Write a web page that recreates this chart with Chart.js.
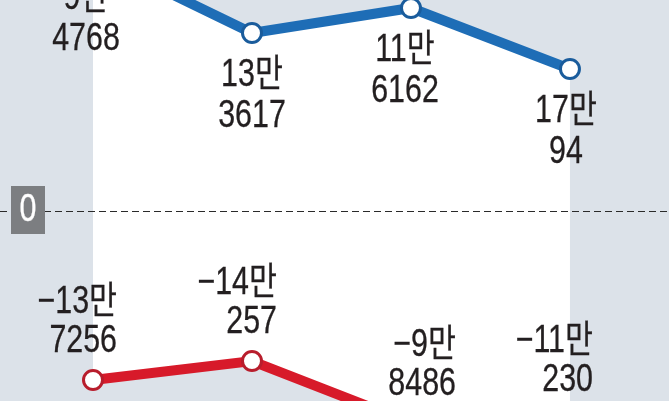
<!DOCTYPE html>
<html>
<head>
<meta charset="utf-8">
<script src="https://cdn.jsdelivr.net/npm/chart.js@4"></script>
<style>
html, body { margin:0; padding:0; background:#dce2e9; overflow:hidden; }
#wrap { width:669px; height:401px; }
</style>
</head>
<body>
<div id="wrap"><canvas id="myChart" width="669" height="401"></canvas></div>
<script>
// four periods, no visible category labels in the crop
const categories = ['1', '2', '3', '4'];
const blueValues = [127.5, 89, 101.5, 71];
const redValues = [-84.5, -75, -106, -104];
// printed value labels
const blueLabels = [['9만', '4768'], ['13만', '3617'], ['11만', '6162'], ['17만', '94']];
const redLabels = [['−13만', '7256'], ['−14만', '257'], ['−9만', '8486'], ['−11만', '230']];

const FONT = "38px 'Liberation Sans', 'Noto Sans CJK KR', sans-serif";
const TEXT = '#231f20';

function narrowText(ctx, str, x, y, align, color) {
	ctx.save();
	ctx.translate(x, y);
	ctx.scale(0.8, 1);
	ctx.font = FONT;
	ctx.fillStyle = color;
	ctx.strokeStyle = color;
	ctx.lineWidth = 0.3;
	ctx.textAlign = align;
	ctx.textBaseline = 'middle';
	ctx.fillText(str, 0, 0);
	ctx.strokeText(str, 0, 0);
	ctx.restore();
}

// zero line + grey "0" tag
const zeroLine = {
	id: 'zeroLine',
	beforeDatasetsDraw(chart) {
		const ctx = chart.ctx;
		const y = chart.scales.y.getPixelForValue(0);
		ctx.save();
		ctx.strokeStyle = '#2a2a2a';
		ctx.lineWidth = 1;
		ctx.setLineDash([7, 4]);
		ctx.beginPath();
		ctx.moveTo(0, y + 0.5);
		ctx.lineTo(chart.width, y + 0.5);
		ctx.stroke();
		ctx.restore();

		ctx.fillStyle = '#7c7e81';
		ctx.fillRect(11, y - 25, 34, 48);
		narrowText(ctx, '0', 28, y, 'center', '#ffffff');
	}
};

// blue labels sit under the points, red ones above (right aligned)
const blueDx = [-7, 0, -6, -4];
const redDx = [24, 25, 45, 23];

const valueLabels = {
	id: 'valueLabels',
	afterDatasetsDraw(chart) {
		const ctx = chart.ctx;
		chart.getDatasetMeta(0).data.forEach((pt, i) => {
			narrowText(ctx, blueLabels[i][0], pt.x + blueDx[i], pt.y + 43, 'center', TEXT);
			narrowText(ctx, blueLabels[i][1], pt.x + blueDx[i], pt.y + 84, 'center', TEXT);
		});
		chart.getDatasetMeta(1).data.forEach((pt, i) => {
			narrowText(ctx, redLabels[i][0], pt.x + redDx[i], pt.y - 77, 'right', TEXT);
			narrowText(ctx, redLabels[i][1], pt.x + redDx[i], pt.y - 38, 'right', TEXT);
		});
	}
};

const ctx = document.getElementById('myChart');

new Chart(ctx, {
	type: 'line',
	data: {
		datasets: [
			{
				label: 'blue',
				data: blueValues.map((v, i) => ({x: i, y: v})),
				borderColor: '#1e6db6',
				borderWidth: 10,
				pointRadius: 9.5,
				pointBorderWidth: 3,
				pointBorderColor: '#1a5c9c',
				pointBackgroundColor: '#ffffff',
				backgroundColor: '#ffffff',
				fill: '+1',
				tension: 0
			},
			{
				label: 'red',
				data: redValues.map((v, i) => ({x: i, y: v})),
				borderColor: '#d71a2a',
				borderWidth: 10,
				pointRadius: 9.5,
				pointBorderWidth: 3,
				pointBorderColor: '#b81d2c',
				pointBackgroundColor: '#ffffff',
				fill: false,
				tension: 0
			}
		]
	},
	options: {
		responsive: false,
		animation: false,
		layout: { padding: 0, autoPadding: false },
		plugins: {
			legend: { display: false },
			tooltip: { enabled: false },
			filler: { drawTime: 'beforeDatasetsDraw' }
		},
		scales: {
			x: { type: 'linear', min: -0.585, max: 3.623, display: false },
			y: { min: -95, max: 105.5, display: false }
		}
	},
	plugins: [zeroLine, valueLabels]
});
</script>
</body>
</html>
